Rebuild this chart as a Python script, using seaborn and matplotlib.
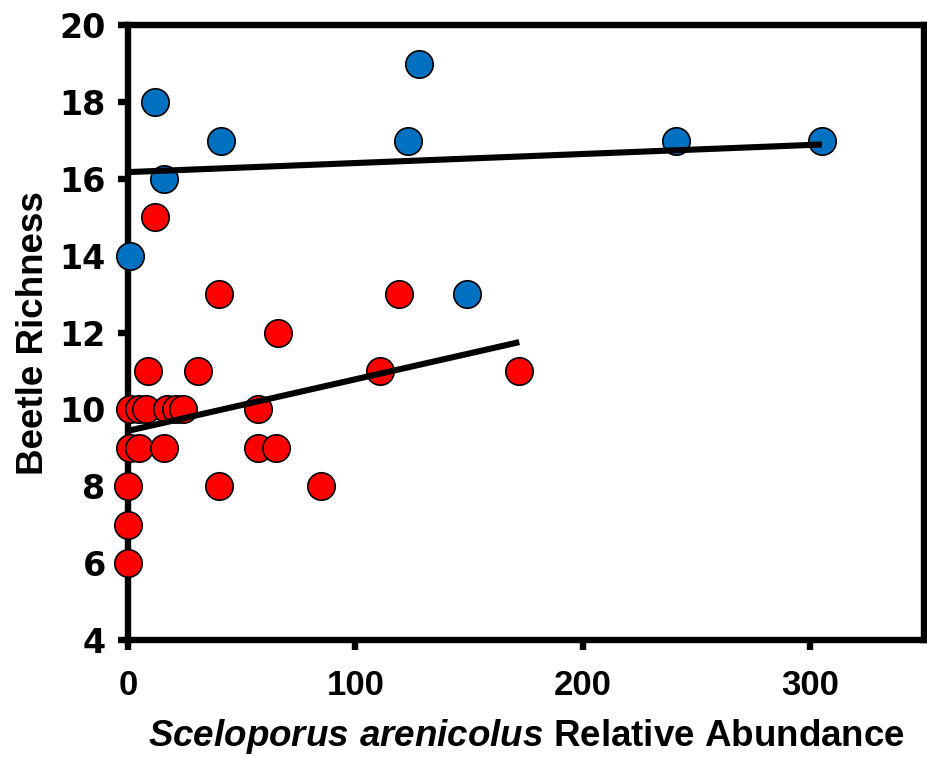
import matplotlib
matplotlib.use("Agg")
import matplotlib.pyplot as plt
import seaborn as sns
import pandas as pd

# Blue group (high richness)
blue_x = [1, 12, 16, 41, 123, 128, 149, 241, 305]
blue_y = [14, 18, 16, 17, 17, 19, 13, 17, 17]

# Red group (low richness)
red_x = [12, 40, 119, 9, 31, 111, 172, 66,
         1, 5, 8, 17, 21, 24, 57,
         1, 5, 16, 57, 65,
         0, 40, 85, 0, 0]
red_y = [15, 13, 13, 11, 11, 11, 11, 12,
         10, 10, 10, 10, 10, 10, 10,
         9, 9, 9, 9, 9,
         8, 8, 8, 7, 6]

x_ticks = [0, 100, 200, 300]
y_ticks = [4, 6, 8, 10, 12, 14, 16, 18, 20]

sns.set_theme(style="white")
plt.rcParams['font.family'] = ['Liberation Sans', 'DejaVu Sans']
plt.rcParams['mathtext.fontset'] = 'custom'
plt.rcParams['mathtext.rm'] = 'Liberation Sans:bold'
plt.rcParams['mathtext.bf'] = 'Liberation Sans:bold'
plt.rcParams['mathtext.it'] = 'Liberation Sans:italic:bold'
plt.rcParams['mathtext.bfit'] = 'Liberation Sans:italic:bold'

blue_df = pd.DataFrame({"x": blue_x, "y": blue_y})
red_df = pd.DataFrame({"x": red_x, "y": red_y})

fig = plt.figure(figsize=(9.27, 7.57), dpi=100)
ax = fig.add_axes([0.138, 0.1546, 0.859, 0.812])

sk = dict(s=390, edgecolors="black", linewidths=1.2, alpha=1,
          clip_on=False, zorder=3)
lk = dict(color="black", linewidth=4.4, solid_capstyle="butt", zorder=4)

sns.regplot(data=red_df, x="x", y="y", ci=None, ax=ax,
            scatter_kws=dict(color="#FF0000", **sk), line_kws=lk)
sns.regplot(data=blue_df, x="x", y="y", ci=None, ax=ax,
            scatter_kws=dict(color="#0070C0", **sk), line_kws=lk)

ax.set_xlim(0, 350)
ax.set_ylim(4, 20)
ax.set_xticks(x_ticks)
ax.set_yticks(y_ticks)
ax.set_xticklabels([str(t) for t in x_ticks], fontsize=25, fontweight="bold")
ax.set_yticklabels([str(t) for t in y_ticks], fontsize=24, fontweight="bold",
                   family=['DejaVu Sans'])

for sp in ax.spines.values():
    sp.set_visible(True)
    sp.set_color("black")
    sp.set_linewidth(4.6)
    sp.set_zorder(2.5)

ax.tick_params(axis="both", direction="out", length=7, width=4.6,
               color="black", labelcolor="black")
ax.tick_params(axis="x", pad=14, bottom=True, top=False)
ax.tick_params(axis="y", pad=9, left=True, right=False)

ax.set_xlabel(r"$\mathit{Sceloporus\ arenicolus}$ Relative Abundance",
              fontsize=26.5, fontweight="bold", labelpad=11, color="black")
ax.set_ylabel("Beetle Richness", fontsize=26.5, fontweight="bold",
              labelpad=6, color="black")

fig.savefig("out.png", dpi=100)
